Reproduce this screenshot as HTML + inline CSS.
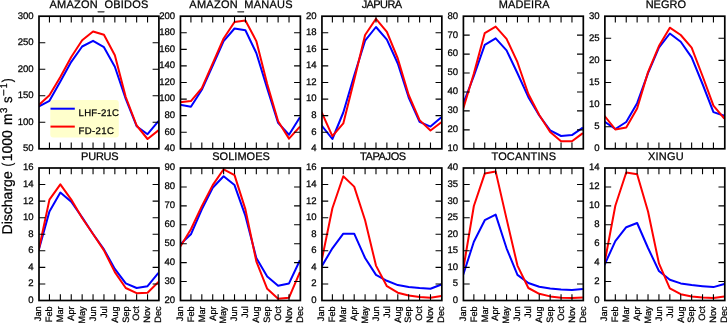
<!DOCTYPE html>
<html><head><meta charset="utf-8"><title>Discharge</title>
<style>html,body{margin:0;padding:0;background:#fff;}body{width:727px;height:323px;overflow:hidden;}svg{display:block;will-change:transform;}text{font-family:"Liberation Sans", sans-serif;fill:#000;stroke:#000;stroke-width:0.25px;text-rendering:geometricPrecision;}</style>
</head><body>
<svg width="727" height="323" viewBox="0 0 727 323">
<rect x="0" y="0" width="727" height="323" fill="#fff"/>
<rect x="50.3" y="100" width="68.5" height="37.5" rx="3" ry="3" fill="#ffffcc"/>
<clipPath id="c0"><rect x="39" y="16.2" width="119.9" height="132.6"/></clipPath>
<g clip-path="url(#c0)">
<polyline points="38.55,106.6 49.45,100.8 60.35,81.5 71.25,61.8 82.15,46.5 93.05,40.8 103.95,47.2 114.85,66.7 125.75,99 136.65,126.2 147.55,134.2 158.45,121.2" fill="none" stroke="#0000ff" stroke-width="2" stroke-linejoin="round" stroke-linecap="butt"/>
<polyline points="38.55,105.2 49.45,95.2 60.35,77.1 71.25,57 82.15,40.3 93.05,31.5 103.95,34.8 114.85,55.2 125.75,97 136.65,125.5 147.55,139 158.45,130.3" fill="none" stroke="#ff0000" stroke-width="2" stroke-linejoin="round" stroke-linecap="butt"/>
</g>
<path d="M49.45 16.2v6.3M49.45 148.8v-6.3M60.35 16.2v6.3M60.35 148.8v-6.3M71.25 16.2v6.3M71.25 148.8v-6.3M82.15 16.2v6.3M82.15 148.8v-6.3M93.05 16.2v6.3M93.05 148.8v-6.3M103.95 16.2v6.3M103.95 148.8v-6.3M114.85 16.2v6.3M114.85 148.8v-6.3M125.75 16.2v6.3M125.75 148.8v-6.3M136.65 16.2v6.3M136.65 148.8v-6.3M147.55 16.2v6.3M147.55 148.8v-6.3M39 122.28h6.3M158.9 122.28h-6.3M39 95.76h6.3M158.9 95.76h-6.3M39 69.24h6.3M158.9 69.24h-6.3M39 42.72h6.3M158.9 42.72h-6.3" stroke="#000" stroke-width="1.1" fill="none"/>
<rect x="39" y="16.2" width="119.9" height="132.6" fill="none" stroke="#000" stroke-width="1.7"/>
<text x="33.7" y="151.2" font-size="9.57" text-anchor="end">50</text>
<text x="33.7" y="124.68" font-size="9.57" text-anchor="end">100</text>
<text x="33.7" y="98.16" font-size="9.57" text-anchor="end">150</text>
<text x="33.7" y="71.64" font-size="9.57" text-anchor="end">200</text>
<text x="33.7" y="45.12" font-size="9.57" text-anchor="end">250</text>
<text x="33.7" y="18.6" font-size="9.57" text-anchor="end">300</text>
<text x="98.95" y="7.9" font-size="10.99" textLength="98.86" lengthAdjust="spacing" text-anchor="middle">AMAZON<tspan dy="1.6">_</tspan><tspan dy="-1.6">OBIDOS</tspan></text>
<clipPath id="c1"><rect x="180.47" y="16.2" width="119.9" height="132.6"/></clipPath>
<g clip-path="url(#c1)">
<polyline points="180.02,104.7 190.92,106.7 201.82,89.8 212.72,65.5 223.62,41.1 234.52,28.5 245.42,30.3 256.32,53 267.22,88.4 278.12,122.9 289.02,134.8 299.92,117.3" fill="none" stroke="#0000ff" stroke-width="2" stroke-linejoin="round" stroke-linecap="butt"/>
<polyline points="180.02,102.2 190.92,101.1 201.82,88.2 212.72,63.4 223.62,38.5 234.52,22 245.42,20.5 256.32,41.1 267.22,84 278.12,121.2 289.02,138.6 299.92,126.6" fill="none" stroke="#ff0000" stroke-width="2" stroke-linejoin="round" stroke-linecap="butt"/>
</g>
<path d="M190.92 16.2v6.3M190.92 148.8v-6.3M201.82 16.2v6.3M201.82 148.8v-6.3M212.72 16.2v6.3M212.72 148.8v-6.3M223.62 16.2v6.3M223.62 148.8v-6.3M234.52 16.2v6.3M234.52 148.8v-6.3M245.42 16.2v6.3M245.42 148.8v-6.3M256.32 16.2v6.3M256.32 148.8v-6.3M267.22 16.2v6.3M267.22 148.8v-6.3M278.12 16.2v6.3M278.12 148.8v-6.3M289.02 16.2v6.3M289.02 148.8v-6.3M180.47 132.23h6.3M300.37 132.23h-6.3M180.47 115.65h6.3M300.37 115.65h-6.3M180.47 99.08h6.3M300.37 99.08h-6.3M180.47 82.5h6.3M300.37 82.5h-6.3M180.47 65.92h6.3M300.37 65.92h-6.3M180.47 49.35h6.3M300.37 49.35h-6.3M180.47 32.77h6.3M300.37 32.77h-6.3" stroke="#000" stroke-width="1.1" fill="none"/>
<rect x="180.47" y="16.2" width="119.9" height="132.6" fill="none" stroke="#000" stroke-width="1.7"/>
<text x="175.17" y="151.2" font-size="9.57" text-anchor="end">40</text>
<text x="175.17" y="134.63" font-size="9.57" text-anchor="end">60</text>
<text x="175.17" y="118.05" font-size="9.57" text-anchor="end">80</text>
<text x="175.17" y="101.48" font-size="9.57" text-anchor="end">100</text>
<text x="175.17" y="84.9" font-size="9.57" text-anchor="end">120</text>
<text x="175.17" y="68.33" font-size="9.57" text-anchor="end">140</text>
<text x="175.17" y="51.75" font-size="9.57" text-anchor="end">160</text>
<text x="175.17" y="35.17" font-size="9.57" text-anchor="end">180</text>
<text x="175.17" y="18.6" font-size="9.57" text-anchor="end">200</text>
<text x="240.92" y="7.9" font-size="10.99" textLength="103.14" lengthAdjust="spacing" text-anchor="middle">AMAZON<tspan dy="1.6">_</tspan><tspan dy="-1.6">MANAUS</tspan></text>
<clipPath id="c2"><rect x="321.94" y="16.2" width="119.9" height="132.6"/></clipPath>
<g clip-path="url(#c2)">
<polyline points="321.49,125.3 332.39,139 343.29,112.5 354.19,75.5 365.09,40.7 375.99,27 386.89,39.6 397.79,63.5 408.69,97.5 419.59,121.9 430.49,126.6 441.39,117.3" fill="none" stroke="#0000ff" stroke-width="2" stroke-linejoin="round" stroke-linecap="butt"/>
<polyline points="321.49,111.8 332.39,136.2 343.29,123.4 354.19,80 365.09,35 375.99,18.8 386.89,31.8 397.79,58.5 408.69,95 419.59,120.1 430.49,130.5 441.39,122.3" fill="none" stroke="#ff0000" stroke-width="2" stroke-linejoin="round" stroke-linecap="butt"/>
</g>
<path d="M332.39 16.2v6.3M332.39 148.8v-6.3M343.29 16.2v6.3M343.29 148.8v-6.3M354.19 16.2v6.3M354.19 148.8v-6.3M365.09 16.2v6.3M365.09 148.8v-6.3M375.99 16.2v6.3M375.99 148.8v-6.3M386.89 16.2v6.3M386.89 148.8v-6.3M397.79 16.2v6.3M397.79 148.8v-6.3M408.69 16.2v6.3M408.69 148.8v-6.3M419.59 16.2v6.3M419.59 148.8v-6.3M430.49 16.2v6.3M430.49 148.8v-6.3M321.94 132.23h6.3M441.84 132.23h-6.3M321.94 115.65h6.3M441.84 115.65h-6.3M321.94 99.08h6.3M441.84 99.08h-6.3M321.94 82.5h6.3M441.84 82.5h-6.3M321.94 65.92h6.3M441.84 65.92h-6.3M321.94 49.35h6.3M441.84 49.35h-6.3M321.94 32.77h6.3M441.84 32.77h-6.3" stroke="#000" stroke-width="1.1" fill="none"/>
<rect x="321.94" y="16.2" width="119.9" height="132.6" fill="none" stroke="#000" stroke-width="1.7"/>
<text x="316.64" y="151.2" font-size="9.57" text-anchor="end">4</text>
<text x="316.64" y="134.63" font-size="9.57" text-anchor="end">6</text>
<text x="316.64" y="118.05" font-size="9.57" text-anchor="end">8</text>
<text x="316.64" y="101.48" font-size="9.57" text-anchor="end">10</text>
<text x="316.64" y="84.9" font-size="9.57" text-anchor="end">12</text>
<text x="316.64" y="68.33" font-size="9.57" text-anchor="end">14</text>
<text x="316.64" y="51.75" font-size="9.57" text-anchor="end">16</text>
<text x="316.64" y="35.17" font-size="9.57" text-anchor="end">18</text>
<text x="316.64" y="18.6" font-size="9.57" text-anchor="end">20</text>
<text x="381.89" y="7.9" font-size="10.99" textLength="40.32" lengthAdjust="spacing" text-anchor="middle">JAPURA</text>
<clipPath id="c3"><rect x="463.41" y="16.2" width="119.9" height="132.6"/></clipPath>
<g clip-path="url(#c3)">
<polyline points="462.96,104.5 473.86,76 484.76,44.8 495.66,38.3 506.56,50.4 517.46,73.2 528.36,97.2 539.26,115.5 550.16,130.3 561.06,136 571.96,135.1 582.86,127.7" fill="none" stroke="#0000ff" stroke-width="2" stroke-linejoin="round" stroke-linecap="butt"/>
<polyline points="462.96,109.5 473.86,73.5 484.76,33.1 495.66,26.6 506.56,38.9 517.46,62.2 528.36,94 539.26,115 550.16,132 561.06,141.2 571.96,141.2 582.86,133.1" fill="none" stroke="#ff0000" stroke-width="2" stroke-linejoin="round" stroke-linecap="butt"/>
</g>
<path d="M473.86 16.2v6.3M473.86 148.8v-6.3M484.76 16.2v6.3M484.76 148.8v-6.3M495.66 16.2v6.3M495.66 148.8v-6.3M506.56 16.2v6.3M506.56 148.8v-6.3M517.46 16.2v6.3M517.46 148.8v-6.3M528.36 16.2v6.3M528.36 148.8v-6.3M539.26 16.2v6.3M539.26 148.8v-6.3M550.16 16.2v6.3M550.16 148.8v-6.3M561.06 16.2v6.3M561.06 148.8v-6.3M571.96 16.2v6.3M571.96 148.8v-6.3M463.41 129.86h6.3M583.31 129.86h-6.3M463.41 110.91h6.3M583.31 110.91h-6.3M463.41 91.97h6.3M583.31 91.97h-6.3M463.41 73.03h6.3M583.31 73.03h-6.3M463.41 54.09h6.3M583.31 54.09h-6.3M463.41 35.14h6.3M583.31 35.14h-6.3" stroke="#000" stroke-width="1.1" fill="none"/>
<rect x="463.41" y="16.2" width="119.9" height="132.6" fill="none" stroke="#000" stroke-width="1.7"/>
<text x="458.11" y="151.2" font-size="9.57" text-anchor="end">10</text>
<text x="458.11" y="132.26" font-size="9.57" text-anchor="end">20</text>
<text x="458.11" y="113.31" font-size="9.57" text-anchor="end">30</text>
<text x="458.11" y="94.37" font-size="9.57" text-anchor="end">40</text>
<text x="458.11" y="75.43" font-size="9.57" text-anchor="end">50</text>
<text x="458.11" y="56.49" font-size="9.57" text-anchor="end">60</text>
<text x="458.11" y="37.54" font-size="9.57" text-anchor="end">70</text>
<text x="458.11" y="18.6" font-size="9.57" text-anchor="end">80</text>
<text x="524.16" y="7.9" font-size="10.99" textLength="50.83" lengthAdjust="spacing" text-anchor="middle">MADEIRA</text>
<clipPath id="c4"><rect x="604.88" y="16.2" width="119.9" height="132.6"/></clipPath>
<g clip-path="url(#c4)">
<polyline points="604.43,121.6 615.33,129 626.23,122 637.13,103.2 648.03,73.2 658.93,47.6 669.83,33.5 680.73,41.8 691.63,57.4 702.53,84 713.43,112.1 724.33,115.8" fill="none" stroke="#0000ff" stroke-width="2" stroke-linejoin="round" stroke-linecap="butt"/>
<polyline points="604.43,115.8 615.33,129.4 626.23,127.4 637.13,108.5 648.03,72.1 658.93,46.1 669.83,27.7 680.73,35 691.63,47.6 702.53,76 713.43,105.6 724.33,118.6" fill="none" stroke="#ff0000" stroke-width="2" stroke-linejoin="round" stroke-linecap="butt"/>
</g>
<path d="M615.33 16.2v6.3M615.33 148.8v-6.3M626.23 16.2v6.3M626.23 148.8v-6.3M637.13 16.2v6.3M637.13 148.8v-6.3M648.03 16.2v6.3M648.03 148.8v-6.3M658.93 16.2v6.3M658.93 148.8v-6.3M669.83 16.2v6.3M669.83 148.8v-6.3M680.73 16.2v6.3M680.73 148.8v-6.3M691.63 16.2v6.3M691.63 148.8v-6.3M702.53 16.2v6.3M702.53 148.8v-6.3M713.43 16.2v6.3M713.43 148.8v-6.3M604.88 126.7h6.3M724.78 126.7h-6.3M604.88 104.6h6.3M724.78 104.6h-6.3M604.88 82.5h6.3M724.78 82.5h-6.3M604.88 60.4h6.3M724.78 60.4h-6.3M604.88 38.3h6.3M724.78 38.3h-6.3" stroke="#000" stroke-width="1.1" fill="none"/>
<rect x="604.88" y="16.2" width="119.9" height="132.6" fill="none" stroke="#000" stroke-width="1.7"/>
<text x="599.58" y="151.2" font-size="9.57" text-anchor="end">0</text>
<text x="599.58" y="129.1" font-size="9.57" text-anchor="end">5</text>
<text x="599.58" y="107" font-size="9.57" text-anchor="end">10</text>
<text x="599.58" y="84.9" font-size="9.57" text-anchor="end">15</text>
<text x="599.58" y="62.8" font-size="9.57" text-anchor="end">20</text>
<text x="599.58" y="40.7" font-size="9.57" text-anchor="end">25</text>
<text x="599.58" y="18.6" font-size="9.57" text-anchor="end">30</text>
<text x="665.83" y="7.9" font-size="10.99" textLength="40.34" lengthAdjust="spacing" text-anchor="middle">NEGRO</text>
<clipPath id="c5"><rect x="39" y="168" width="119.9" height="132.5"/></clipPath>
<g clip-path="url(#c5)">
<polyline points="38.55,250.7 49.45,211.5 60.35,192.5 71.25,201.8 82.15,217.4 93.05,234 103.95,249.4 114.85,268.9 125.75,283.4 136.65,288 147.55,286.2 158.45,272.8" fill="none" stroke="#0000ff" stroke-width="2" stroke-linejoin="round" stroke-linecap="butt"/>
<polyline points="38.55,250.7 49.45,199.6 60.35,184.4 71.25,199.6 82.15,218 93.05,234 103.95,250.4 114.85,272.1 125.75,288 136.65,293.2 147.55,292.7 158.45,281.9" fill="none" stroke="#ff0000" stroke-width="2" stroke-linejoin="round" stroke-linecap="butt"/>
</g>
<path d="M49.45 168v6.3M49.45 300.5v-6.3M60.35 168v6.3M60.35 300.5v-6.3M71.25 168v6.3M71.25 300.5v-6.3M82.15 168v6.3M82.15 300.5v-6.3M93.05 168v6.3M93.05 300.5v-6.3M103.95 168v6.3M103.95 300.5v-6.3M114.85 168v6.3M114.85 300.5v-6.3M125.75 168v6.3M125.75 300.5v-6.3M136.65 168v6.3M136.65 300.5v-6.3M147.55 168v6.3M147.55 300.5v-6.3M39 283.94h6.3M158.9 283.94h-6.3M39 267.38h6.3M158.9 267.38h-6.3M39 250.81h6.3M158.9 250.81h-6.3M39 234.25h6.3M158.9 234.25h-6.3M39 217.69h6.3M158.9 217.69h-6.3M39 201.12h6.3M158.9 201.12h-6.3M39 184.56h6.3M158.9 184.56h-6.3" stroke="#000" stroke-width="1.1" fill="none"/>
<rect x="39" y="168" width="119.9" height="132.5" fill="none" stroke="#000" stroke-width="1.7"/>
<text x="33.7" y="302.9" font-size="9.57" text-anchor="end">0</text>
<text x="33.7" y="286.34" font-size="9.57" text-anchor="end">2</text>
<text x="33.7" y="269.77" font-size="9.57" text-anchor="end">4</text>
<text x="33.7" y="253.21" font-size="9.57" text-anchor="end">6</text>
<text x="33.7" y="236.65" font-size="9.57" text-anchor="end">8</text>
<text x="33.7" y="220.09" font-size="9.57" text-anchor="end">10</text>
<text x="33.7" y="203.53" font-size="9.57" text-anchor="end">12</text>
<text x="33.7" y="186.96" font-size="9.57" text-anchor="end">14</text>
<text x="33.7" y="170.4" font-size="9.57" text-anchor="end">16</text>
<text x="99.85" y="159.7" font-size="10.99" textLength="37.68" lengthAdjust="spacing" text-anchor="middle">PURUS</text>
<g transform="translate(41.35,306.3) rotate(-90)"><text x="0" y="0" font-size="9.22" text-anchor="end">Jan</text></g>
<g transform="translate(52.25,306.3) rotate(-90)"><text x="0" y="0" font-size="9.22" text-anchor="end">Feb</text></g>
<g transform="translate(63.15,306.3) rotate(-90)"><text x="0" y="0" font-size="9.22" text-anchor="end">Mar</text></g>
<g transform="translate(74.05,306.3) rotate(-90)"><text x="0" y="0" font-size="9.22" text-anchor="end">Apr</text></g>
<g transform="translate(84.95,306.3) rotate(-90)"><text x="0" y="0" font-size="9.22" text-anchor="end">May</text></g>
<g transform="translate(95.85,306.3) rotate(-90)"><text x="0" y="0" font-size="9.22" text-anchor="end">Jun</text></g>
<g transform="translate(106.75,306.3) rotate(-90)"><text x="0" y="0" font-size="9.22" text-anchor="end">Jul</text></g>
<g transform="translate(117.65,306.3) rotate(-90)"><text x="0" y="0" font-size="9.22" text-anchor="end">Aug</text></g>
<g transform="translate(128.55,306.3) rotate(-90)"><text x="0" y="0" font-size="9.22" text-anchor="end">Sep</text></g>
<g transform="translate(139.45,306.3) rotate(-90)"><text x="0" y="0" font-size="9.22" text-anchor="end">Oct</text></g>
<g transform="translate(150.35,306.3) rotate(-90)"><text x="0" y="0" font-size="9.22" text-anchor="end">Nov</text></g>
<g transform="translate(161.25,306.3) rotate(-90)"><text x="0" y="0" font-size="9.22" text-anchor="end">Dec</text></g>
<clipPath id="c6"><rect x="180.47" y="168" width="119.9" height="132.5"/></clipPath>
<g clip-path="url(#c6)">
<polyline points="180.02,244.5 190.92,234.3 201.82,209.4 212.72,187.7 223.62,176.2 234.52,185.1 245.42,215.9 256.32,258 267.22,276.5 278.12,285.8 289.02,283.4 299.92,260.2" fill="none" stroke="#0000ff" stroke-width="2" stroke-linejoin="round" stroke-linecap="butt"/>
<polyline points="180.02,247 190.92,229.3 201.82,206.1 212.72,185.1 223.62,169.3 234.52,175.1 245.42,209.4 256.32,261.3 267.22,288.8 278.12,298.8 289.02,297.7 299.92,272.1" fill="none" stroke="#ff0000" stroke-width="2" stroke-linejoin="round" stroke-linecap="butt"/>
</g>
<path d="M190.92 168v6.3M190.92 300.5v-6.3M201.82 168v6.3M201.82 300.5v-6.3M212.72 168v6.3M212.72 300.5v-6.3M223.62 168v6.3M223.62 300.5v-6.3M234.52 168v6.3M234.52 300.5v-6.3M245.42 168v6.3M245.42 300.5v-6.3M256.32 168v6.3M256.32 300.5v-6.3M267.22 168v6.3M267.22 300.5v-6.3M278.12 168v6.3M278.12 300.5v-6.3M289.02 168v6.3M289.02 300.5v-6.3M180.47 281.57h6.3M300.37 281.57h-6.3M180.47 262.64h6.3M300.37 262.64h-6.3M180.47 243.71h6.3M300.37 243.71h-6.3M180.47 224.79h6.3M300.37 224.79h-6.3M180.47 205.86h6.3M300.37 205.86h-6.3M180.47 186.93h6.3M300.37 186.93h-6.3" stroke="#000" stroke-width="1.1" fill="none"/>
<rect x="180.47" y="168" width="119.9" height="132.5" fill="none" stroke="#000" stroke-width="1.7"/>
<text x="175.17" y="302.9" font-size="9.57" text-anchor="end">20</text>
<text x="175.17" y="283.97" font-size="9.57" text-anchor="end">30</text>
<text x="175.17" y="265.04" font-size="9.57" text-anchor="end">40</text>
<text x="175.17" y="246.11" font-size="9.57" text-anchor="end">50</text>
<text x="175.17" y="227.19" font-size="9.57" text-anchor="end">60</text>
<text x="175.17" y="208.26" font-size="9.57" text-anchor="end">70</text>
<text x="175.17" y="189.33" font-size="9.57" text-anchor="end">80</text>
<text x="175.17" y="170.4" font-size="9.57" text-anchor="end">90</text>
<text x="241.02" y="159.7" font-size="10.99" textLength="57.58" lengthAdjust="spacing" text-anchor="middle">SOLIMOES</text>
<g transform="translate(182.82,306.3) rotate(-90)"><text x="0" y="0" font-size="9.22" text-anchor="end">Jan</text></g>
<g transform="translate(193.72,306.3) rotate(-90)"><text x="0" y="0" font-size="9.22" text-anchor="end">Feb</text></g>
<g transform="translate(204.62,306.3) rotate(-90)"><text x="0" y="0" font-size="9.22" text-anchor="end">Mar</text></g>
<g transform="translate(215.52,306.3) rotate(-90)"><text x="0" y="0" font-size="9.22" text-anchor="end">Apr</text></g>
<g transform="translate(226.42,306.3) rotate(-90)"><text x="0" y="0" font-size="9.22" text-anchor="end">May</text></g>
<g transform="translate(237.32,306.3) rotate(-90)"><text x="0" y="0" font-size="9.22" text-anchor="end">Jun</text></g>
<g transform="translate(248.22,306.3) rotate(-90)"><text x="0" y="0" font-size="9.22" text-anchor="end">Jul</text></g>
<g transform="translate(259.12,306.3) rotate(-90)"><text x="0" y="0" font-size="9.22" text-anchor="end">Aug</text></g>
<g transform="translate(270.02,306.3) rotate(-90)"><text x="0" y="0" font-size="9.22" text-anchor="end">Sep</text></g>
<g transform="translate(280.92,306.3) rotate(-90)"><text x="0" y="0" font-size="9.22" text-anchor="end">Oct</text></g>
<g transform="translate(291.82,306.3) rotate(-90)"><text x="0" y="0" font-size="9.22" text-anchor="end">Nov</text></g>
<g transform="translate(302.72,306.3) rotate(-90)"><text x="0" y="0" font-size="9.22" text-anchor="end">Dec</text></g>
<clipPath id="c7"><rect x="321.94" y="168" width="119.9" height="132.5"/></clipPath>
<g clip-path="url(#c7)">
<polyline points="321.49,266.7 332.39,248.3 343.29,233.7 354.19,233.7 365.09,258 375.99,274.9 386.89,280.8 397.79,285.1 408.69,286.9 419.59,288 430.49,288.8 441.39,284.5" fill="none" stroke="#0000ff" stroke-width="2" stroke-linejoin="round" stroke-linecap="butt"/>
<polyline points="321.49,261.3 332.39,208.3 343.29,176.2 354.19,186.6 365.09,220.2 375.99,265.6 386.89,286.2 397.79,292.7 408.69,295.5 419.59,297 430.49,297.7 441.39,296" fill="none" stroke="#ff0000" stroke-width="2" stroke-linejoin="round" stroke-linecap="butt"/>
</g>
<path d="M332.39 168v6.3M332.39 300.5v-6.3M343.29 168v6.3M343.29 300.5v-6.3M354.19 168v6.3M354.19 300.5v-6.3M365.09 168v6.3M365.09 300.5v-6.3M375.99 168v6.3M375.99 300.5v-6.3M386.89 168v6.3M386.89 300.5v-6.3M397.79 168v6.3M397.79 300.5v-6.3M408.69 168v6.3M408.69 300.5v-6.3M419.59 168v6.3M419.59 300.5v-6.3M430.49 168v6.3M430.49 300.5v-6.3M321.94 283.94h6.3M441.84 283.94h-6.3M321.94 267.38h6.3M441.84 267.38h-6.3M321.94 250.81h6.3M441.84 250.81h-6.3M321.94 234.25h6.3M441.84 234.25h-6.3M321.94 217.69h6.3M441.84 217.69h-6.3M321.94 201.12h6.3M441.84 201.12h-6.3M321.94 184.56h6.3M441.84 184.56h-6.3" stroke="#000" stroke-width="1.1" fill="none"/>
<rect x="321.94" y="168" width="119.9" height="132.5" fill="none" stroke="#000" stroke-width="1.7"/>
<text x="316.64" y="302.9" font-size="9.57" text-anchor="end">0</text>
<text x="316.64" y="286.34" font-size="9.57" text-anchor="end">2</text>
<text x="316.64" y="269.77" font-size="9.57" text-anchor="end">4</text>
<text x="316.64" y="253.21" font-size="9.57" text-anchor="end">6</text>
<text x="316.64" y="236.65" font-size="9.57" text-anchor="end">8</text>
<text x="316.64" y="220.09" font-size="9.57" text-anchor="end">10</text>
<text x="316.64" y="203.53" font-size="9.57" text-anchor="end">12</text>
<text x="316.64" y="186.96" font-size="9.57" text-anchor="end">14</text>
<text x="316.64" y="170.4" font-size="9.57" text-anchor="end">16</text>
<text x="383.09" y="159.7" font-size="10.99" textLength="46.12" lengthAdjust="spacing" text-anchor="middle">TAPAJOS</text>
<g transform="translate(324.29,306.3) rotate(-90)"><text x="0" y="0" font-size="9.22" text-anchor="end">Jan</text></g>
<g transform="translate(335.19,306.3) rotate(-90)"><text x="0" y="0" font-size="9.22" text-anchor="end">Feb</text></g>
<g transform="translate(346.09,306.3) rotate(-90)"><text x="0" y="0" font-size="9.22" text-anchor="end">Mar</text></g>
<g transform="translate(356.99,306.3) rotate(-90)"><text x="0" y="0" font-size="9.22" text-anchor="end">Apr</text></g>
<g transform="translate(367.89,306.3) rotate(-90)"><text x="0" y="0" font-size="9.22" text-anchor="end">May</text></g>
<g transform="translate(378.79,306.3) rotate(-90)"><text x="0" y="0" font-size="9.22" text-anchor="end">Jun</text></g>
<g transform="translate(389.69,306.3) rotate(-90)"><text x="0" y="0" font-size="9.22" text-anchor="end">Jul</text></g>
<g transform="translate(400.59,306.3) rotate(-90)"><text x="0" y="0" font-size="9.22" text-anchor="end">Aug</text></g>
<g transform="translate(411.49,306.3) rotate(-90)"><text x="0" y="0" font-size="9.22" text-anchor="end">Sep</text></g>
<g transform="translate(422.39,306.3) rotate(-90)"><text x="0" y="0" font-size="9.22" text-anchor="end">Oct</text></g>
<g transform="translate(433.29,306.3) rotate(-90)"><text x="0" y="0" font-size="9.22" text-anchor="end">Nov</text></g>
<g transform="translate(444.19,306.3) rotate(-90)"><text x="0" y="0" font-size="9.22" text-anchor="end">Dec</text></g>
<clipPath id="c8"><rect x="463.41" y="168" width="119.9" height="132.5"/></clipPath>
<g clip-path="url(#c8)">
<polyline points="462.96,275.5 473.86,241.8 484.76,220.2 495.66,214.6 506.56,248.3 517.46,274.9 528.36,283 539.26,286.7 550.16,288.4 561.06,289.5 571.96,289.9 582.86,289" fill="none" stroke="#0000ff" stroke-width="2" stroke-linejoin="round" stroke-linecap="butt"/>
<polyline points="462.96,271 473.86,206 484.76,173.6 495.66,171.4 506.56,218.9 517.46,265.6 528.36,288 539.26,293.8 550.16,296.4 561.06,297.7 571.96,298.1 582.86,297.5" fill="none" stroke="#ff0000" stroke-width="2" stroke-linejoin="round" stroke-linecap="butt"/>
</g>
<path d="M473.86 168v6.3M473.86 300.5v-6.3M484.76 168v6.3M484.76 300.5v-6.3M495.66 168v6.3M495.66 300.5v-6.3M506.56 168v6.3M506.56 300.5v-6.3M517.46 168v6.3M517.46 300.5v-6.3M528.36 168v6.3M528.36 300.5v-6.3M539.26 168v6.3M539.26 300.5v-6.3M550.16 168v6.3M550.16 300.5v-6.3M561.06 168v6.3M561.06 300.5v-6.3M571.96 168v6.3M571.96 300.5v-6.3M463.41 283.94h6.3M583.31 283.94h-6.3M463.41 267.38h6.3M583.31 267.38h-6.3M463.41 250.81h6.3M583.31 250.81h-6.3M463.41 234.25h6.3M583.31 234.25h-6.3M463.41 217.69h6.3M583.31 217.69h-6.3M463.41 201.12h6.3M583.31 201.12h-6.3M463.41 184.56h6.3M583.31 184.56h-6.3" stroke="#000" stroke-width="1.1" fill="none"/>
<rect x="463.41" y="168" width="119.9" height="132.5" fill="none" stroke="#000" stroke-width="1.7"/>
<text x="458.11" y="302.9" font-size="9.57" text-anchor="end">0</text>
<text x="458.11" y="286.34" font-size="9.57" text-anchor="end">5</text>
<text x="458.11" y="269.77" font-size="9.57" text-anchor="end">10</text>
<text x="458.11" y="253.21" font-size="9.57" text-anchor="end">15</text>
<text x="458.11" y="236.65" font-size="9.57" text-anchor="end">20</text>
<text x="458.11" y="220.09" font-size="9.57" text-anchor="end">25</text>
<text x="458.11" y="203.53" font-size="9.57" text-anchor="end">30</text>
<text x="458.11" y="186.96" font-size="9.57" text-anchor="end">35</text>
<text x="458.11" y="170.4" font-size="9.57" text-anchor="end">40</text>
<text x="523.76" y="159.7" font-size="10.99" textLength="64.53" lengthAdjust="spacing" text-anchor="middle">TOCANTINS</text>
<g transform="translate(465.76,306.3) rotate(-90)"><text x="0" y="0" font-size="9.22" text-anchor="end">Jan</text></g>
<g transform="translate(476.66,306.3) rotate(-90)"><text x="0" y="0" font-size="9.22" text-anchor="end">Feb</text></g>
<g transform="translate(487.56,306.3) rotate(-90)"><text x="0" y="0" font-size="9.22" text-anchor="end">Mar</text></g>
<g transform="translate(498.46,306.3) rotate(-90)"><text x="0" y="0" font-size="9.22" text-anchor="end">Apr</text></g>
<g transform="translate(509.36,306.3) rotate(-90)"><text x="0" y="0" font-size="9.22" text-anchor="end">May</text></g>
<g transform="translate(520.26,306.3) rotate(-90)"><text x="0" y="0" font-size="9.22" text-anchor="end">Jun</text></g>
<g transform="translate(531.16,306.3) rotate(-90)"><text x="0" y="0" font-size="9.22" text-anchor="end">Jul</text></g>
<g transform="translate(542.06,306.3) rotate(-90)"><text x="0" y="0" font-size="9.22" text-anchor="end">Aug</text></g>
<g transform="translate(552.96,306.3) rotate(-90)"><text x="0" y="0" font-size="9.22" text-anchor="end">Sep</text></g>
<g transform="translate(563.86,306.3) rotate(-90)"><text x="0" y="0" font-size="9.22" text-anchor="end">Oct</text></g>
<g transform="translate(574.76,306.3) rotate(-90)"><text x="0" y="0" font-size="9.22" text-anchor="end">Nov</text></g>
<g transform="translate(585.66,306.3) rotate(-90)"><text x="0" y="0" font-size="9.22" text-anchor="end">Dec</text></g>
<clipPath id="c9"><rect x="604.88" y="168" width="119.9" height="132.5"/></clipPath>
<g clip-path="url(#c9)">
<polyline points="604.43,265 615.33,241.2 626.23,227.2 637.13,223 648.03,248 658.93,271 669.83,279.7 680.73,283.4 691.63,285.1 702.53,286.2 713.43,287.1 724.33,284" fill="none" stroke="#0000ff" stroke-width="2" stroke-linejoin="round" stroke-linecap="butt"/>
<polyline points="604.43,263.5 615.33,205.8 626.23,172.5 637.13,174.2 648.03,211.5 658.93,263.4 669.83,288.4 680.73,294.2 691.63,296.4 702.53,297.5 713.43,298.1 724.33,296.6" fill="none" stroke="#ff0000" stroke-width="2" stroke-linejoin="round" stroke-linecap="butt"/>
</g>
<path d="M615.33 168v6.3M615.33 300.5v-6.3M626.23 168v6.3M626.23 300.5v-6.3M637.13 168v6.3M637.13 300.5v-6.3M648.03 168v6.3M648.03 300.5v-6.3M658.93 168v6.3M658.93 300.5v-6.3M669.83 168v6.3M669.83 300.5v-6.3M680.73 168v6.3M680.73 300.5v-6.3M691.63 168v6.3M691.63 300.5v-6.3M702.53 168v6.3M702.53 300.5v-6.3M713.43 168v6.3M713.43 300.5v-6.3M604.88 281.57h6.3M724.78 281.57h-6.3M604.88 262.64h6.3M724.78 262.64h-6.3M604.88 243.71h6.3M724.78 243.71h-6.3M604.88 224.79h6.3M724.78 224.79h-6.3M604.88 205.86h6.3M724.78 205.86h-6.3M604.88 186.93h6.3M724.78 186.93h-6.3" stroke="#000" stroke-width="1.1" fill="none"/>
<rect x="604.88" y="168" width="119.9" height="132.5" fill="none" stroke="#000" stroke-width="1.7"/>
<text x="599.58" y="302.9" font-size="9.57" text-anchor="end">0</text>
<text x="599.58" y="283.97" font-size="9.57" text-anchor="end">2</text>
<text x="599.58" y="265.04" font-size="9.57" text-anchor="end">4</text>
<text x="599.58" y="246.11" font-size="9.57" text-anchor="end">6</text>
<text x="599.58" y="227.19" font-size="9.57" text-anchor="end">8</text>
<text x="599.58" y="208.26" font-size="9.57" text-anchor="end">10</text>
<text x="599.58" y="189.33" font-size="9.57" text-anchor="end">12</text>
<text x="599.58" y="170.4" font-size="9.57" text-anchor="end">14</text>
<text x="665.83" y="159.7" font-size="10.99" textLength="35.89" lengthAdjust="spacing" text-anchor="middle">XINGU</text>
<g transform="translate(607.23,306.3) rotate(-90)"><text x="0" y="0" font-size="9.22" text-anchor="end">Jan</text></g>
<g transform="translate(618.13,306.3) rotate(-90)"><text x="0" y="0" font-size="9.22" text-anchor="end">Feb</text></g>
<g transform="translate(629.03,306.3) rotate(-90)"><text x="0" y="0" font-size="9.22" text-anchor="end">Mar</text></g>
<g transform="translate(639.93,306.3) rotate(-90)"><text x="0" y="0" font-size="9.22" text-anchor="end">Apr</text></g>
<g transform="translate(650.83,306.3) rotate(-90)"><text x="0" y="0" font-size="9.22" text-anchor="end">May</text></g>
<g transform="translate(661.73,306.3) rotate(-90)"><text x="0" y="0" font-size="9.22" text-anchor="end">Jun</text></g>
<g transform="translate(672.63,306.3) rotate(-90)"><text x="0" y="0" font-size="9.22" text-anchor="end">Jul</text></g>
<g transform="translate(683.53,306.3) rotate(-90)"><text x="0" y="0" font-size="9.22" text-anchor="end">Aug</text></g>
<g transform="translate(694.43,306.3) rotate(-90)"><text x="0" y="0" font-size="9.22" text-anchor="end">Sep</text></g>
<g transform="translate(705.33,306.3) rotate(-90)"><text x="0" y="0" font-size="9.22" text-anchor="end">Oct</text></g>
<g transform="translate(716.23,306.3) rotate(-90)"><text x="0" y="0" font-size="9.22" text-anchor="end">Nov</text></g>
<g transform="translate(727.13,306.3) rotate(-90)"><text x="0" y="0" font-size="9.22" text-anchor="end">Dec</text></g>
<line x1="50.5" y1="108.7" x2="74.8" y2="108.7" stroke="#0000ff" stroke-width="2"/>
<line x1="50.5" y1="126.6" x2="74.8" y2="126.6" stroke="#ff0000" stroke-width="2"/>
<text x="78.6" y="116.4" font-size="9.6" textLength="40.45" lengthAdjust="spacing">LHF-21C</text>
<text x="78.6" y="134.2" font-size="9.6" textLength="35.27" lengthAdjust="spacing">FD-21C</text>
<g transform="translate(11.7,233.9) rotate(-90) scale(1.01)">
<text x="-0.6" y="0" font-size="14.03" textLength="62.58" lengthAdjust="spacingAndGlyphs">Discharge</text>
<text x="66.65" y="0" font-size="14.03" textLength="3.83" lengthAdjust="spacingAndGlyphs">(</text>
<text x="71.9" y="0" font-size="14.03" textLength="30.82" lengthAdjust="spacingAndGlyphs">1000</text>
<text x="107.78" y="0" font-size="14.03" textLength="11.2" lengthAdjust="spacingAndGlyphs">m</text>
<text x="119.65" y="-5" font-size="9.82" textLength="5.33" lengthAdjust="spacingAndGlyphs">3</text>
<text x="129.65" y="0" font-size="14.03" textLength="6.45" lengthAdjust="spacingAndGlyphs">s</text>
<text x="136.65" y="-5.12" font-size="9.82" textLength="6.7" lengthAdjust="spacingAndGlyphs">−</text>
<text x="144.15" y="-5.12" font-size="9.82" textLength="4.83" lengthAdjust="spacingAndGlyphs">1</text>
<text x="150.15" y="0" font-size="14.03" textLength="3.95" lengthAdjust="spacingAndGlyphs">)</text>
</g>
</svg>
</body></html>
